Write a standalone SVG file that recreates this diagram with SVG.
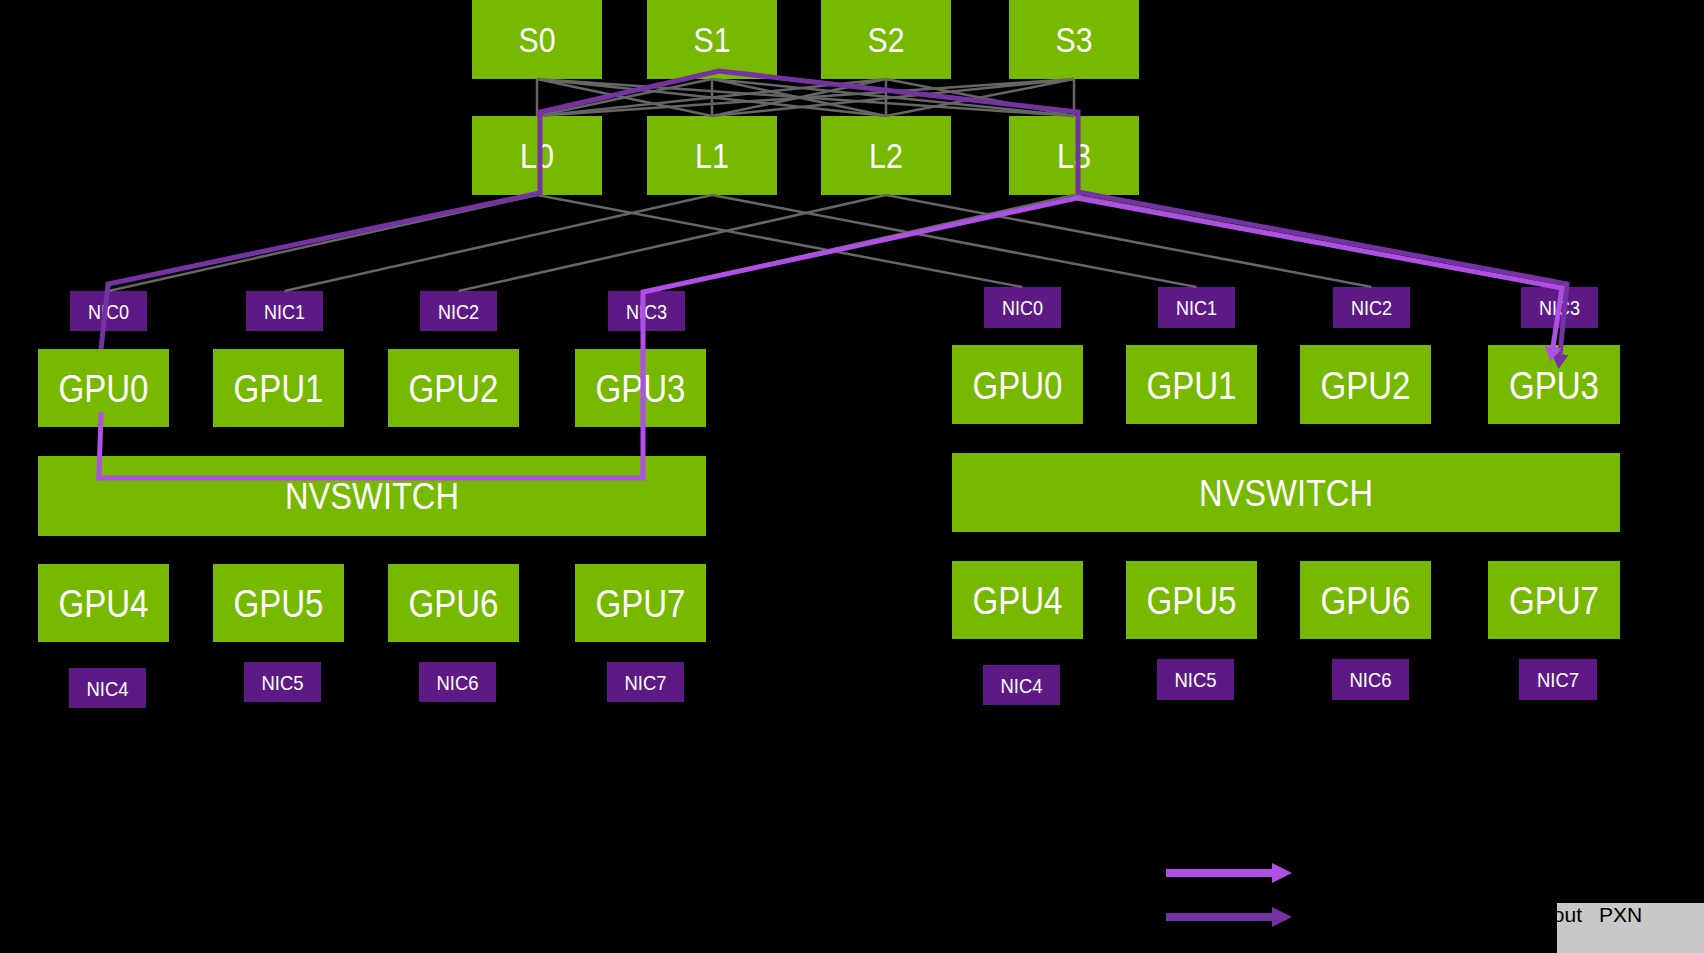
<svg xmlns="http://www.w3.org/2000/svg" width="1704" height="953" viewBox="0 0 1704 953">
<style>
.g{fill:#76B900}
.n{fill:#5E1A84}
.t{fill:#FFFFFF;font-family:"Liberation Sans",Arial,sans-serif;text-anchor:middle}
.big{font-size:35px}
.gpu{font-size:39px}
.nv{font-size:37px}
.nic{font-size:21px}
.mesh{stroke:#666666;stroke-width:2.5;fill:none}
.pl{stroke:#B04FE6;stroke-width:5;fill:none;stroke-linejoin:miter}
.pd{stroke:#7432A3;stroke-width:5;fill:none;stroke-linejoin:miter}
</style>
<defs>
<marker id="ahL" markerUnits="userSpaceOnUse" markerWidth="15" markerHeight="17" refX="0" refY="8.5" orient="auto"><path d="M0,0 L15,8.5 L0,17 z" fill="#B04FE6"/></marker>
<marker id="ahD" markerUnits="userSpaceOnUse" markerWidth="15" markerHeight="17" refX="0" refY="8.5" orient="auto"><path d="M0,0 L15,8.5 L0,17 z" fill="#7432A3"/></marker>
<marker id="lgL" markerUnits="userSpaceOnUse" markerWidth="20" markerHeight="20" refX="0" refY="10" orient="auto"><path d="M0,0 L20,10 L0,20 z" fill="#B04FE6"/></marker>
<marker id="lgD" markerUnits="userSpaceOnUse" markerWidth="20" markerHeight="20" refX="0" refY="10" orient="auto"><path d="M0,0 L20,10 L0,20 z" fill="#7432A3"/></marker>
</defs>
<rect x="0" y="0" width="1704" height="953" fill="#000000"/>

<!-- spine switches -->
<g id="S0"><rect class="g" x="472" y="0" width="130" height="79"/><text class="t big" x="537" y="52" textLength="37" lengthAdjust="spacingAndGlyphs">S0</text></g>
<g id="S1"><rect class="g" x="647" y="0" width="130" height="79"/><text class="t big" x="712" y="52" textLength="37" lengthAdjust="spacingAndGlyphs">S1</text></g>
<g id="S2"><rect class="g" x="821" y="0" width="130" height="79"/><text class="t big" x="886" y="52" textLength="37" lengthAdjust="spacingAndGlyphs">S2</text></g>
<g id="S3"><rect class="g" x="1009" y="0" width="130" height="79"/><text class="t big" x="1074" y="52" textLength="37" lengthAdjust="spacingAndGlyphs">S3</text></g>

<!-- leaf switches -->
<g id="L0"><rect class="g" x="472" y="116" width="130" height="79"/><text class="t big" x="537" y="168" textLength="34" lengthAdjust="spacingAndGlyphs">L0</text></g>
<g id="L1"><rect class="g" x="647" y="116" width="130" height="79"/><text class="t big" x="712" y="168" textLength="34" lengthAdjust="spacingAndGlyphs">L1</text></g>
<g id="L2"><rect class="g" x="821" y="116" width="130" height="79"/><text class="t big" x="886" y="168" textLength="34" lengthAdjust="spacingAndGlyphs">L2</text></g>
<g id="L3"><rect class="g" x="1009" y="116" width="130" height="79"/><text class="t big" x="1074" y="168" textLength="34" lengthAdjust="spacingAndGlyphs">L3</text></g>

<!-- left server -->
<g id="A_NIC0"><rect class="n" x="70" y="291" width="77" height="40"/><text class="t nic" x="108.5" y="319" textLength="41" lengthAdjust="spacingAndGlyphs">NIC0</text></g>
<g id="A_NIC1"><rect class="n" x="246" y="291" width="77" height="40"/><text class="t nic" x="284.5" y="319" textLength="41" lengthAdjust="spacingAndGlyphs">NIC1</text></g>
<g id="A_NIC2"><rect class="n" x="420" y="291" width="77" height="40"/><text class="t nic" x="458.5" y="319" textLength="41" lengthAdjust="spacingAndGlyphs">NIC2</text></g>
<g id="A_NIC3"><rect class="n" x="608" y="291" width="77" height="40"/><text class="t nic" x="646.5" y="319" textLength="41" lengthAdjust="spacingAndGlyphs">NIC3</text></g>
<g id="A_GPU0"><rect class="g" x="38" y="349" width="131" height="78"/><text class="t gpu" x="103.5" y="402" textLength="90" lengthAdjust="spacingAndGlyphs">GPU0</text></g>
<g id="A_GPU1"><rect class="g" x="213" y="349" width="131" height="78"/><text class="t gpu" x="278.5" y="402" textLength="90" lengthAdjust="spacingAndGlyphs">GPU1</text></g>
<g id="A_GPU2"><rect class="g" x="388" y="349" width="131" height="78"/><text class="t gpu" x="453.5" y="402" textLength="90" lengthAdjust="spacingAndGlyphs">GPU2</text></g>
<g id="A_GPU3"><rect class="g" x="575" y="349" width="131" height="78"/><text class="t gpu" x="640.5" y="402" textLength="90" lengthAdjust="spacingAndGlyphs">GPU3</text></g>
<g id="A_NVSWITCH"><rect class="g" x="38" y="456" width="668" height="80"/><text class="t nv" x="372" y="509" textLength="174" lengthAdjust="spacingAndGlyphs">NVSWITCH</text></g>
<g id="A_GPU4"><rect class="g" x="38" y="564" width="131" height="78"/><text class="t gpu" x="103.5" y="617" textLength="90" lengthAdjust="spacingAndGlyphs">GPU4</text></g>
<g id="A_GPU5"><rect class="g" x="213" y="564" width="131" height="78"/><text class="t gpu" x="278.5" y="617" textLength="90" lengthAdjust="spacingAndGlyphs">GPU5</text></g>
<g id="A_GPU6"><rect class="g" x="388" y="564" width="131" height="78"/><text class="t gpu" x="453.5" y="617" textLength="90" lengthAdjust="spacingAndGlyphs">GPU6</text></g>
<g id="A_GPU7"><rect class="g" x="575" y="564" width="131" height="78"/><text class="t gpu" x="640.5" y="617" textLength="90" lengthAdjust="spacingAndGlyphs">GPU7</text></g>
<g id="A_NIC4"><rect class="n" x="69" y="668" width="77" height="40"/><text class="t nic" x="107.5" y="696" textLength="42" lengthAdjust="spacingAndGlyphs">NIC4</text></g>
<g id="A_NIC5"><rect class="n" x="244" y="662" width="77" height="40"/><text class="t nic" x="282.5" y="690" textLength="42" lengthAdjust="spacingAndGlyphs">NIC5</text></g>
<g id="A_NIC6"><rect class="n" x="419" y="662" width="77" height="40"/><text class="t nic" x="457.5" y="690" textLength="42" lengthAdjust="spacingAndGlyphs">NIC6</text></g>
<g id="A_NIC7"><rect class="n" x="607" y="662" width="77" height="40"/><text class="t nic" x="645.5" y="690" textLength="42" lengthAdjust="spacingAndGlyphs">NIC7</text></g>

<!-- right server -->
<g id="B_NIC0"><rect class="n" x="984" y="287" width="77" height="41"/><text class="t nic" x="1022.5" y="315" textLength="41" lengthAdjust="spacingAndGlyphs">NIC0</text></g>
<g id="B_NIC1"><rect class="n" x="1158" y="287" width="77" height="41"/><text class="t nic" x="1196.5" y="315" textLength="41" lengthAdjust="spacingAndGlyphs">NIC1</text></g>
<g id="B_NIC2"><rect class="n" x="1333" y="287" width="77" height="41"/><text class="t nic" x="1371.5" y="315" textLength="41" lengthAdjust="spacingAndGlyphs">NIC2</text></g>
<g id="B_NIC3"><rect class="n" x="1521" y="287" width="77" height="41"/><text class="t nic" x="1559.5" y="315" textLength="41" lengthAdjust="spacingAndGlyphs">NIC3</text></g>
<g id="B_GPU0"><rect class="g" x="952" y="345" width="131" height="79"/><text class="t gpu" x="1017.5" y="399" textLength="90" lengthAdjust="spacingAndGlyphs">GPU0</text></g>
<g id="B_GPU1"><rect class="g" x="1126" y="345" width="131" height="79"/><text class="t gpu" x="1191.5" y="399" textLength="90" lengthAdjust="spacingAndGlyphs">GPU1</text></g>
<g id="B_GPU2"><rect class="g" x="1300" y="345" width="131" height="79"/><text class="t gpu" x="1365.5" y="399" textLength="90" lengthAdjust="spacingAndGlyphs">GPU2</text></g>
<g id="B_GPU3"><rect class="g" x="1488" y="345" width="132" height="79"/><text class="t gpu" x="1554" y="399" textLength="90" lengthAdjust="spacingAndGlyphs">GPU3</text></g>
<g id="B_NVSWITCH"><rect class="g" x="952" y="453" width="668" height="79"/><text class="t nv" x="1286" y="506" textLength="174" lengthAdjust="spacingAndGlyphs">NVSWITCH</text></g>
<g id="B_GPU4"><rect class="g" x="952" y="561" width="131" height="78"/><text class="t gpu" x="1017.5" y="614" textLength="90" lengthAdjust="spacingAndGlyphs">GPU4</text></g>
<g id="B_GPU5"><rect class="g" x="1126" y="561" width="131" height="78"/><text class="t gpu" x="1191.5" y="614" textLength="90" lengthAdjust="spacingAndGlyphs">GPU5</text></g>
<g id="B_GPU6"><rect class="g" x="1300" y="561" width="131" height="78"/><text class="t gpu" x="1365.5" y="614" textLength="90" lengthAdjust="spacingAndGlyphs">GPU6</text></g>
<g id="B_GPU7"><rect class="g" x="1488" y="561" width="132" height="78"/><text class="t gpu" x="1554" y="614" textLength="90" lengthAdjust="spacingAndGlyphs">GPU7</text></g>
<g id="B_NIC4"><rect class="n" x="983" y="665" width="77" height="40"/><text class="t nic" x="1021.5" y="693" textLength="42" lengthAdjust="spacingAndGlyphs">NIC4</text></g>
<g id="B_NIC5"><rect class="n" x="1157" y="659" width="77" height="41"/><text class="t nic" x="1195.5" y="687" textLength="42" lengthAdjust="spacingAndGlyphs">NIC5</text></g>
<g id="B_NIC6"><rect class="n" x="1332" y="659" width="77" height="41"/><text class="t nic" x="1370.5" y="687" textLength="42" lengthAdjust="spacingAndGlyphs">NIC6</text></g>
<g id="B_NIC7"><rect class="n" x="1519" y="659" width="78" height="41"/><text class="t nic" x="1558" y="687" textLength="42" lengthAdjust="spacingAndGlyphs">NIC7</text></g>

<!-- connectors -->
<g id="connectors">
  <g class="mesh">
    <path d="M537,79 L537,116 M537,79 L712,116 M537,79 L886,116 M537,79 L1074,116"/>
    <path d="M712,79 L537,116 M712,79 L712,116 M712,79 L886,116 M712,79 L1074,116"/>
    <path d="M886,79 L537,116 M886,79 L712,116 M886,79 L886,116 M886,79 L1074,116"/>
    <path d="M1074,79 L537,116 M1074,79 L712,116 M1074,79 L886,116 M1074,79 L1074,116"/>
    <path d="M537,195 L108.5,291 M537,195 L1022.5,287"/>
    <path d="M712,195 L284.5,291 M712,195 L1196.5,287"/>
    <path d="M886,195 L458.5,291 M886,195 L1371.5,287"/>
    <path d="M1074,195 L646.5,291 M1074,195 L1559.5,287"/>
  </g>
  <path class="pd" d="M101,349 L108,284 L540,193 L540,112 L719,71 L1078,112 L1078,192 L1567,284 L1560,354" marker-end="url(#ahD)"/>
  <path class="pl" d="M101,412 L99,478 L643,478 L643,292 L1077,198 L1562,288 L1553,347" marker-end="url(#ahL)"/>
</g>

<!-- legend -->
<g id="legend">
  <path class="pl" d="M1166,873 L1272,873" style="stroke-width:8" marker-end="url(#lgL)"/>
  <path class="pd" d="M1166,917 L1272,917" style="stroke-width:8" marker-end="url(#lgD)"/>
  <rect x="1557" y="903" width="147" height="50" fill="#C8C8C8"/>
  <text y="922" fill="#000000" font-family="Liberation Sans, Arial, sans-serif" font-size="21"><tspan x="1582" text-anchor="end">Without</tspan><tspan x="1599">PXN</tspan></text>
</g>
</svg>
